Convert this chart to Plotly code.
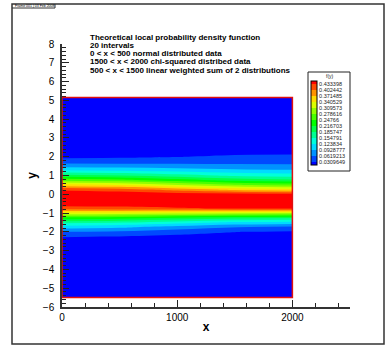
import plotly.graph_objects as go

# ---------------- data ----------------
x_vals = [0, 500, 1000, 1500, 2000]
y_vals = [-5.5, -5.0, -4.5, -4.0, -3.5, -3.0, -2.75, -2.5, -2.25, -2.0, -1.75, -1.5,
          -1.25, -1.0, -0.75, -0.5, -0.25, 0.0, 0.25, 0.5, 0.75, 1.0, 1.25, 1.5,
          1.75, 2.0, 2.25, 2.5, 2.75, 3.0, 3.5, 4.0, 4.5, 5.0, 5.15]

# f(y) read along each x column (normal at left, chi-squared at right)
f_x0 = [0, 0, 0, 0.0001, 0.0006, 0.0037, 0.0084, 0.0177, 0.033, 0.062, 0.105, 0.165,
        0.24, 0.33, 0.42, 0.448, 0.463, 0.458, 0.428, 0.35, 0.27, 0.195, 0.13, 0.08,
        0.046, 0.024, 0.012, 0.0055, 0.0023, 0.0009, 0.0001, 0, 0, 0, 0]
f_x500 = [0, 0, 0, 0.0001, 0.0005, 0.0032, 0.0073, 0.0156, 0.030, 0.057, 0.098, 0.157,
          0.233, 0.327, 0.423, 0.450, 0.463, 0.456, 0.417, 0.339, 0.259, 0.187, 0.125, 0.078,
          0.047, 0.026, 0.0140, 0.0072, 0.0036, 0.0018, 0.0005, 0.0002, 0, 0, 0]
f_x1000 = [0, 0, 0, 0.0001, 0.0003, 0.002, 0.0047, 0.0109, 0.0225, 0.0445, 0.08, 0.1375,
           0.215, 0.32, 0.43, 0.454, 0.463, 0.4515, 0.389, 0.31, 0.2325, 0.1675, 0.115, 0.075,
           0.048, 0.030, 0.0185, 0.0113, 0.0067, 0.004, 0.0016, 0.0005, 0.0002, 0, 0]
f_x1500 = [0, 0, 0, 0, 0.0001, 0.0007, 0.0021, 0.0062, 0.015, 0.032, 0.063, 0.118,
           0.198, 0.312, 0.437, 0.458, 0.463, 0.447, 0.362, 0.282, 0.206, 0.148, 0.105, 0.071,
           0.050, 0.035, 0.024, 0.0160, 0.0103, 0.0064, 0.0027, 0.0009, 0.0003, 0.0001, 0]
f_x2000 = [0, 0, 0, 0, 0, 0.0002, 0.001, 0.004, 0.012, 0.027, 0.055, 0.11,
           0.19, 0.31, 0.44, 0.46, 0.463, 0.445, 0.35, 0.27, 0.195, 0.14, 0.10, 0.07,
           0.05, 0.036, 0.025, 0.017, 0.011, 0.007, 0.003, 0.001, 0.0003, 0.0001, 0]

legend_levels = [0.0309649, 0.0619213, 0.0928777, 0.123834, 0.154791, 0.185747,
                 0.216703, 0.24766, 0.278616, 0.309573, 0.340529, 0.371485,
                 0.402442, 0.433398]
legend_labels = ["0.0309649", "0.0619213", "0.0928777", "0.123834", "0.154791",
                 "0.185747", "0.216703", "0.24766", "0.278616", "0.309573",
                 "0.340529", "0.371485", "0.402442", "0.433398"]

x_ticks = [0, 1000, 2000]
y_ticks = list(range(-6, 9))

info_lines = ["Theoretical local probability density function",
              "20 intervals",
              "0 < x < 500 normal distributed data",
              "1500 < x < 2000 chi-squared distribed data",
              "500 < x < 1500 linear weighted sum of 2 distributions"]

# ---------------- figure ----------------
z = [list(r) for r in zip(f_x0, f_x500, f_x1000, f_x1500, f_x2000)]
lvl_size = (legend_levels[-1] - legend_levels[0]) / (len(legend_levels) - 1)

band_colors = ["rgb(0,0,255)", "rgb(0,73,255)", "rgb(0,146,255)", "rgb(0,219,255)",
               "rgb(0,255,219)", "rgb(0,255,146)", "rgb(0,255,73)", "rgb(0,255,0)",
               "rgb(73,255,0)", "rgb(146,255,0)", "rgb(219,255,0)", "rgb(255,219,0)",
               "rgb(255,146,0)", "rgb(255,73,0)", "rgb(255,0,0)"]
cscale = [[i / (len(band_colors) - 1), c] for i, c in enumerate(band_colors)]

FONT = "Liberation Sans, Arial, sans-serif"
W, H = 385, 347
L, R, T, B = 62, 35, 44, 40
PW, PH = W - L - R, H - T - B


def px(xp):
    return (xp - L) / PW


def py(yp):
    return (H - B - yp) / PH


fig = go.Figure()
fig.add_trace(go.Contour(
    x=x_vals, y=y_vals, z=z,
    colorscale=cscale,
    contours=dict(start=legend_levels[0], end=legend_levels[-1], size=lvl_size,
                  coloring="fill", showlines=False),
    line=dict(width=0),
    colorbar=dict(
        x=px(311), xanchor="left", y=py(123), yanchor="middle",
        len=84, lenmode="pixels", thickness=6, thicknessmode="pixels",
        outlinecolor="black", outlinewidth=1,
        tickvals=legend_levels, ticktext=legend_labels,
        ticks="", ticklabelposition="outside",
        tickfont=dict(family=FONT, size=5.5, color="#222"),
        xpad=0, ypad=0,
    ),
    hoverinfo="skip",
))

shapes = []
# zone boundary (red)
shapes.append(dict(type="rect", xref="x", yref="y", x0=x_vals[0], x1=x_vals[-1],
                   y0=y_vals[0], y1=y_vals[-1], line=dict(color="#e01010", width=1.5),
                   layer="above"))
# legend box
shapes.append(dict(type="rect", xref="paper", yref="paper", x0=px(308), x1=px(350),
                   y0=py(171), y1=py(72), line=dict(color="#222", width=1)))
# frame border
shapes.append(dict(type="rect", xref="paper", yref="paper", x0=px(12), x1=px(384),
                   y0=py(344), y1=py(4), line=dict(color="#333", width=1.5)))
# header box lines
shapes.append(dict(type="line", xref="paper", yref="paper", x0=px(12), x1=px(55),
                   y0=py(8), y1=py(8), line=dict(color="#333", width=1)))
shapes.append(dict(type="line", xref="paper", yref="paper", x0=px(55), x1=px(55),
                   y0=py(4), y1=py(8), line=dict(color="#333", width=1)))

annotations = []
for i, t in enumerate(info_lines):
    annotations.append(dict(xref="paper", yref="paper", x=px(88), y=py(37 + 8.3 * i),
                            xanchor="left", yanchor="middle", showarrow=False,
                            text="<b>%s</b>" % t,
                            font=dict(family=FONT, size=8, color="black")))
annotations.append(dict(xref="paper", yref="paper", x=px(13), y=py(6),
                        xanchor="left", yanchor="middle", showarrow=False,
                        text="Frame 001 | 03 Feb 2008",
                        font=dict(family=FONT, size=3.5, color="black")))
annotations.append(dict(xref="paper", yref="paper", x=px(330), y=py(76),
                        xanchor="center", yanchor="middle", showarrow=False,
                        text="f(y)", font=dict(family=FONT, size=5, color="#222")))

fig.update_layout(
    width=W, height=H, margin=dict(l=L, r=R, t=T, b=B, pad=0),
    paper_bgcolor="white", plot_bgcolor="white",
    font=dict(family=FONT, color="black"),
    shapes=shapes, annotations=annotations, showlegend=False,
    xaxis=dict(range=[0, 2500], tickvals=x_ticks, ticks="inside", ticklen=7,
               tickwidth=1.2, tickcolor="#222", showgrid=False, zeroline=False,
               showline=True, linecolor="#333", linewidth=1.5,
               minor=dict(dtick=200, tick0=0, ticks="inside", ticklen=4,
                          tickcolor="#222", tickwidth=1, showgrid=False),
               tickfont=dict(family=FONT, size=10),
               title=dict(text="<b>x</b>", font=dict(family=FONT, size=12), standoff=1)),
    yaxis=dict(range=[-6, 8], tickvals=y_ticks, ticks="inside", ticklen=7,
               tickwidth=1.2, tickcolor="#222", showgrid=False, zeroline=False,
               showline=True, linecolor="#333", linewidth=1.5, ticklabelstandoff=4,
               minor=dict(dtick=0.2, tick0=0, ticks="inside", ticklen=4,
                          tickcolor="#222", tickwidth=1, showgrid=False),
               tickfont=dict(family=FONT, size=10),
               title=dict(text="<b>y</b>", font=dict(family=FONT, size=12), standoff=4)),
)

fig.write_html("out.html")
